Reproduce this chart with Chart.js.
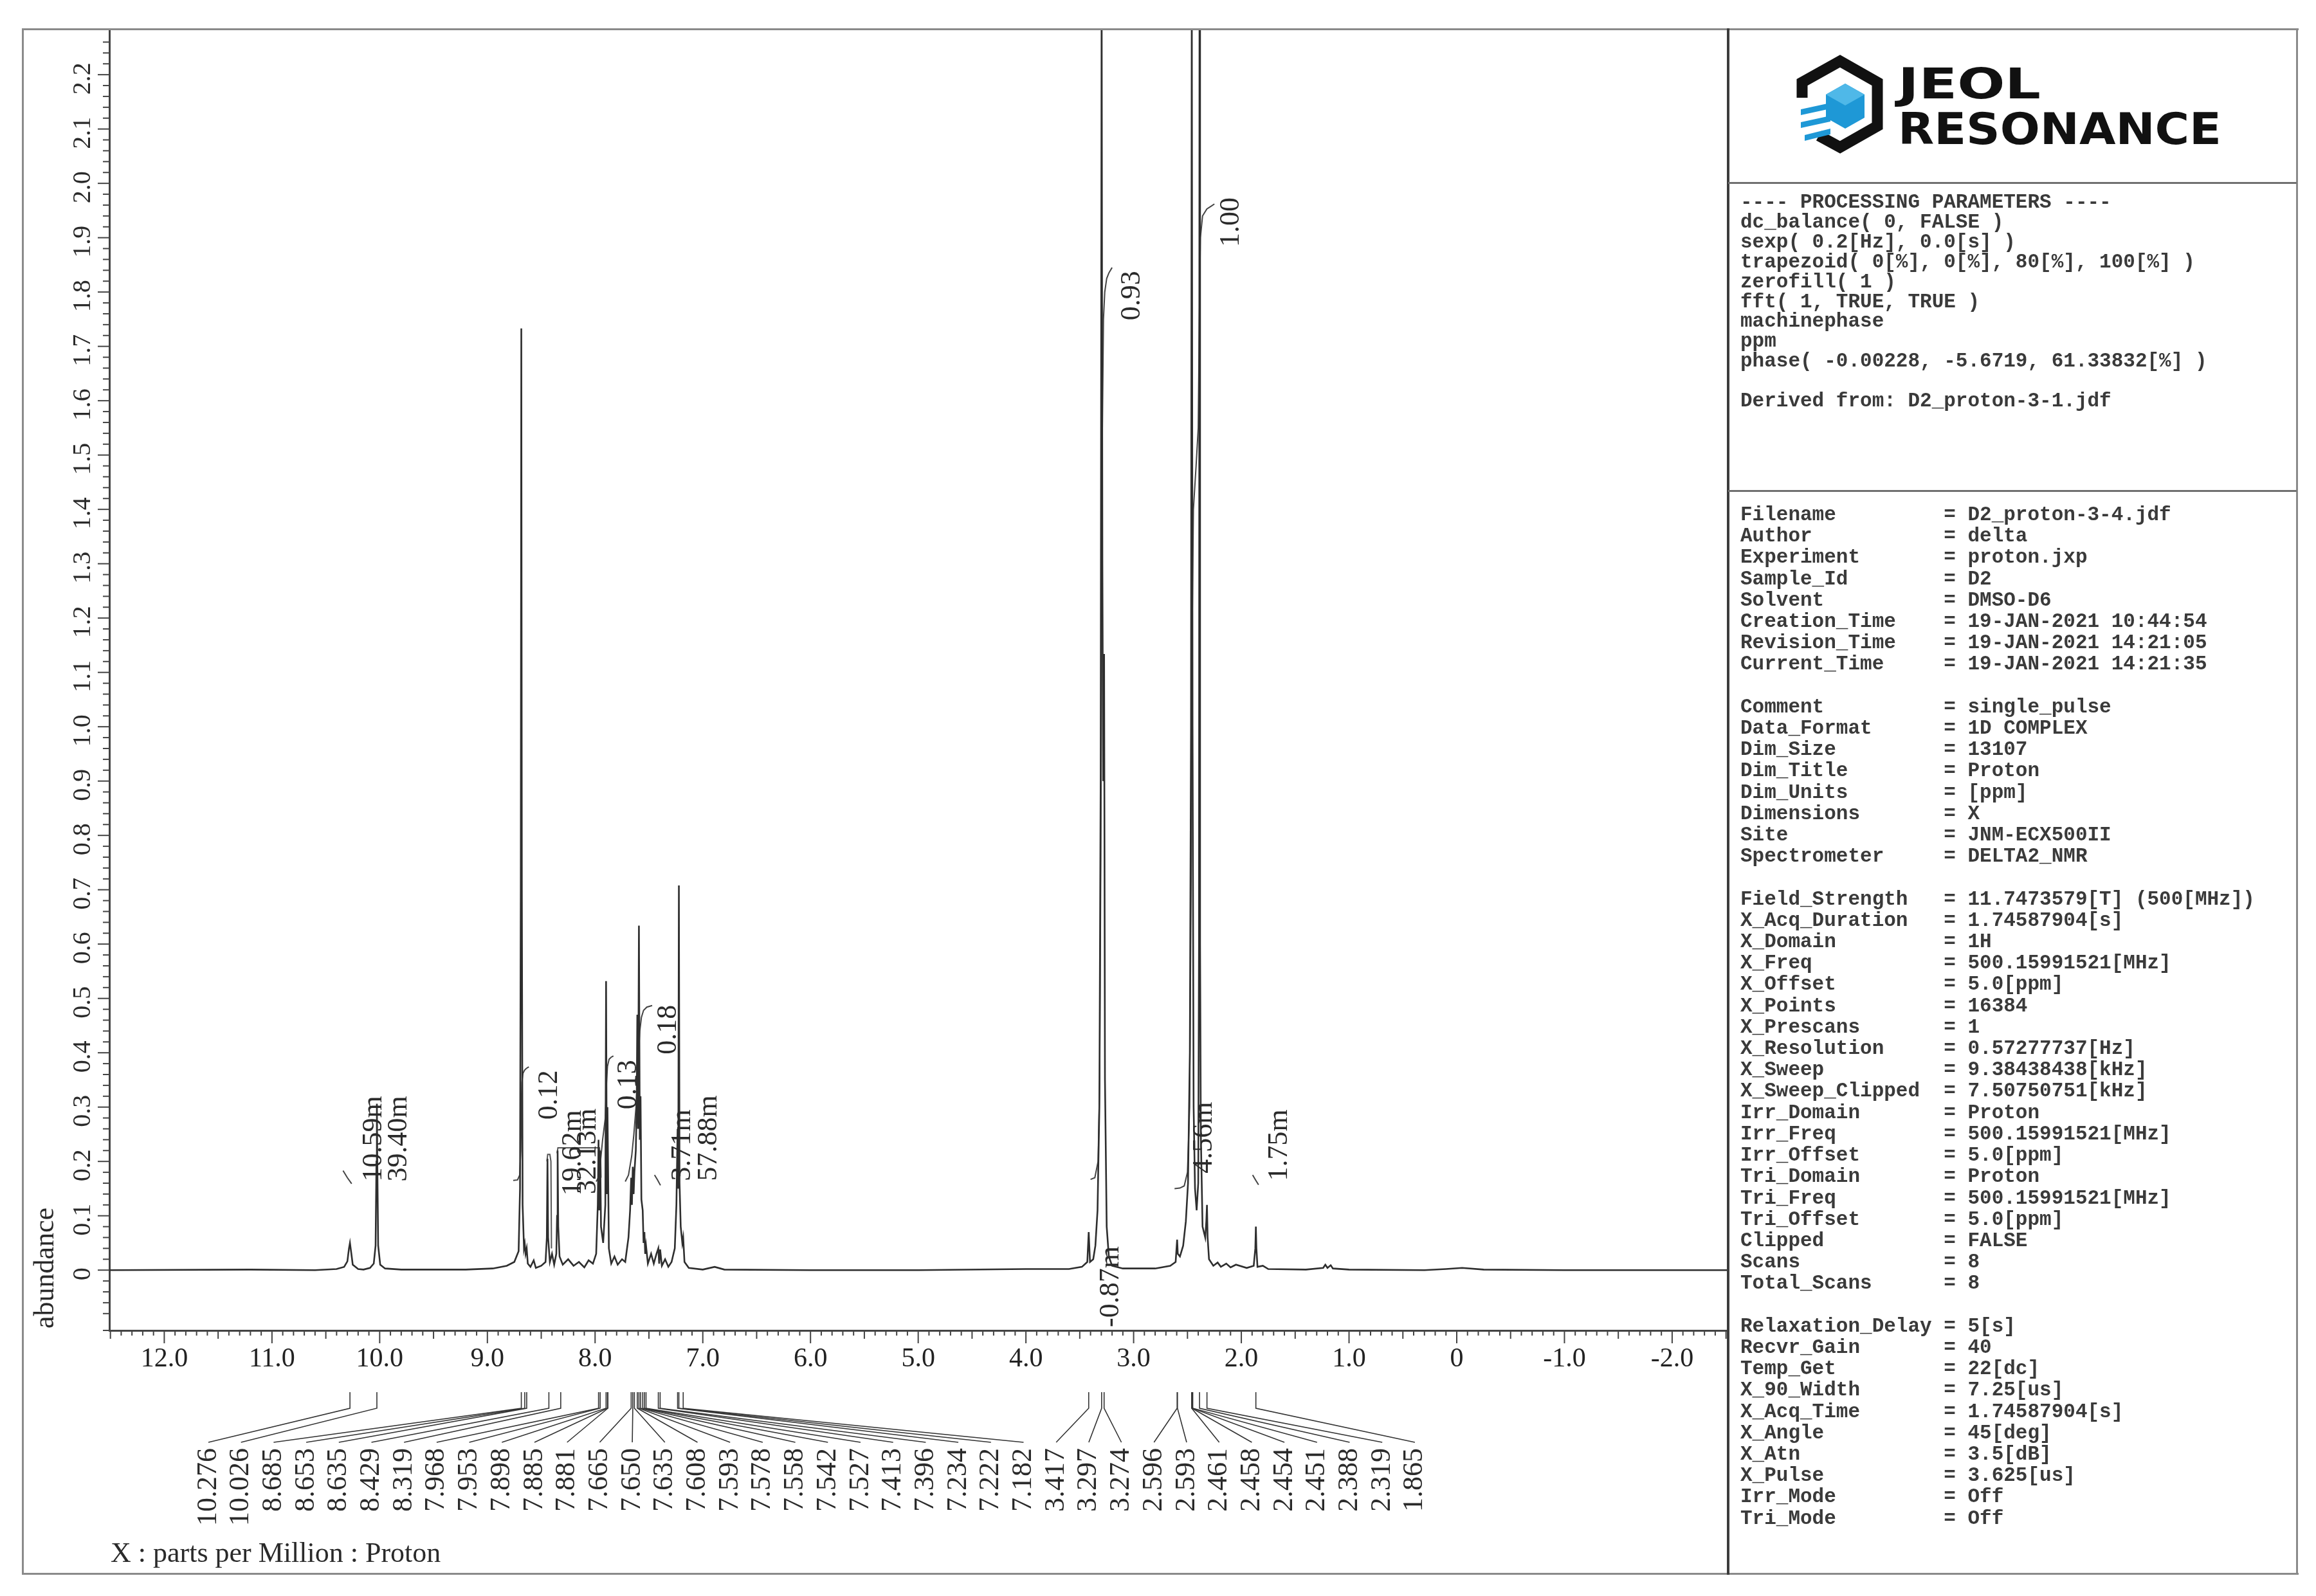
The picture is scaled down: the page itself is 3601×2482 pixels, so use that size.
<!DOCTYPE html>
<html><head><meta charset="utf-8">
<script src="https://cdn.jsdelivr.net/npm/chart.js@4.4.1/dist/chart.umd.min.js"></script>
<style>
html,body{margin:0;padding:0;background:#fff;}
#wrap{position:relative;width:3601px;height:2482px;overflow:hidden;background:#fff}
#c{position:absolute;left:0;top:0}
.ln{position:absolute;background:#8a8a8a}
.mono{position:absolute;left:2706px;font-family:"Liberation Mono","DejaVu Sans Mono",monospace;font-weight:bold;color:#3a3a3a;font-size:31px;white-space:pre;margin:0}
</style></head>
<body><div id="wrap">
<canvas id="c" width="3601" height="2482"></canvas>
<div class="ln" style="left:34px;top:44px;width:3540px;height:3px"></div>
<div class="ln" style="left:34px;top:2446px;width:3540px;height:3px"></div>
<div class="ln" style="left:34px;top:44px;width:3px;height:2405px"></div>
<div class="ln" style="left:3570px;top:44px;width:3px;height:2405px"></div>
<div class="ln" style="left:2685px;top:44px;width:4px;height:2405px;background:#3c3c3c"></div>
<div class="ln" style="left:2687px;top:283px;width:884px;height:3px;background:#707070"></div>
<div class="ln" style="left:2687px;top:762px;width:884px;height:3px;background:#707070"></div>
<svg style="position:absolute;left:2690px;top:48px" width="878" height="234" viewBox="2690 48 878 234">
  <path d="M2802,152 L2802,128 L2861,95 L2919,128 L2919,196 L2861,229 L2828,211" fill="none" stroke="#111" stroke-width="17" stroke-linejoin="miter"/>
  <polygon points="2869,130 2899,147 2899,183 2869,200 2839,183 2839,147" fill="#1e98d6"/>
  <polygon points="2869,130 2899,147 2869,164 2839,147" fill="#4fb8e8"/>
  <polygon points="2800,170 2846,160 2846,169 2800,179" fill="#1e98d6"/>
  <polygon points="2800,190 2846,180 2846,189 2800,199" fill="#1e98d6"/>
  <polygon points="2806,210 2846,200 2846,209 2806,219" fill="#1e98d6"/>
  <text x="2951" y="153" font-family="DejaVu Sans" font-weight="bold" font-size="66" fill="#111" textLength="222" lengthAdjust="spacingAndGlyphs">JEOL</text>
  <text x="2951" y="224" font-family="DejaVu Sans" font-weight="bold" font-size="68" fill="#111" textLength="503" lengthAdjust="spacingAndGlyphs">RESONANCE</text>
</svg>
<div class="mono" style="top:300px;line-height:30.9px">---- PROCESSING PARAMETERS ----
dc_balance( 0, FALSE )
sexp( 0.2[Hz], 0.0[s] )
trapezoid( 0[%], 0[%], 80[%], 100[%] )
zerofill( 1 )
fft( 1, TRUE, TRUE )
machinephase
ppm
phase( -0.00228, -5.6719, 61.33832[%] )

Derived from: D2_proton-3-1.jdf</div>
<div class="mono" style="top:784px;line-height:33.2px">Filename         = D2_proton-3-4.jdf
Author           = delta
Experiment       = proton.jxp
Sample_Id        = D2
Solvent          = DMSO-D6
Creation_Time    = 19-JAN-2021 10:44:54
Revision_Time    = 19-JAN-2021 14:21:05
Current_Time     = 19-JAN-2021 14:21:35

Comment          = single_pulse
Data_Format      = 1D COMPLEX
Dim_Size         = 13107
Dim_Title        = Proton
Dim_Units        = [ppm]
Dimensions       = X
Site             = JNM-ECX500II
Spectrometer     = DELTA2_NMR

Field_Strength   = 11.7473579[T] (500[MHz])
X_Acq_Duration   = 1.74587904[s]
X_Domain         = 1H
X_Freq           = 500.15991521[MHz]
X_Offset         = 5.0[ppm]
X_Points         = 16384
X_Prescans       = 1
X_Resolution     = 0.57277737[Hz]
X_Sweep          = 9.38438438[kHz]
X_Sweep_Clipped  = 7.50750751[kHz]
Irr_Domain       = Proton
Irr_Freq         = 500.15991521[MHz]
Irr_Offset       = 5.0[ppm]
Tri_Domain       = Proton
Tri_Freq         = 500.15991521[MHz]
Tri_Offset       = 5.0[ppm]
Clipped          = FALSE
Scans            = 8
Total_Scans      = 8

Relaxation_Delay = 5[s]
Recvr_Gain       = 40
Temp_Get         = 22[dc]
X_90_Width       = 7.25[us]
X_Acq_Time       = 1.74587904[s]
X_Angle          = 45[deg]
X_Atn            = 3.5[dB]
X_Pulse          = 3.625[us]
Irr_Mode         = Off
Tri_Mode         = Off</div>
</div>
<script>
// ---------- DATA ----------
// spectrum trace (ppm, abundance)
const specPpm = [12.51,11.20,10.60,10.40,10.33,10.30,10.285,10.276,10.266,10.25,10.20,10.15,10.09,10.055,10.038,10.030,10.026,10.022,10.014,9.995,9.95,9.80,9.20,8.95,8.82,8.75,8.71,8.697,8.690,8.685,8.680,8.673,8.660,8.653,8.645,8.635,8.625,8.60,8.57,8.55,8.50,8.46,8.448,8.442,8.436,8.42,8.40,8.38,8.36,8.353,8.348,8.342,8.33,8.30,8.25,8.20,8.15,8.10,8.06,8.02,7.99,7.975,7.968,7.961,7.953,7.945,7.925,7.905,7.898,7.891,7.885,7.881,7.872,7.85,7.82,7.79,7.75,7.72,7.69,7.675,7.665,7.658,7.650,7.642,7.635,7.622,7.614,7.608,7.601,7.593,7.585,7.578,7.570,7.558,7.550,7.542,7.535,7.527,7.51,7.48,7.455,7.43,7.413,7.405,7.396,7.38,7.35,7.32,7.29,7.26,7.245,7.234,7.228,7.222,7.216,7.205,7.190,7.182,7.17,7.13,7.00,6.89,6.80,6.00,5.00,4.00,3.60,3.48,3.43,3.417,3.405,3.375,3.355,3.335,3.318,3.306,3.297,3.290,3.283,3.274,3.266,3.250,3.230,3.20,3.10,2.80,2.66,2.61,2.596,2.590,2.570,2.540,2.515,2.495,2.478,2.467,2.460,2.453,2.443,2.430,2.415,2.400,2.393,2.388,2.383,2.376,2.360,2.335,2.325,2.319,2.313,2.300,2.26,2.22,2.19,2.14,2.10,2.05,1.95,1.885,1.870,1.865,1.860,1.850,1.80,1.75,1.40,1.24,1.22,1.20,1.17,1.15,1.00,0.30,0.10,-0.05,-0.25,-1.00,-2.52];
const specAbund = [0,0.001,0,0.002,0.006,0.016,0.040,0.050,0.035,0.010,0.002,0.001,0.004,0.012,0.045,0.200,0.306,0.200,0.045,0.010,0.003,0.001,0.001,0.003,0.008,0.015,0.035,0.150,0.700,1.733,0.700,0.120,0.040,0.048,0.030,0.040,0.012,0.006,0.018,0.004,0.008,0.015,0.060,0.205,0.060,0.015,0.030,0.010,0.030,0.100,0.220,0.080,0.025,0.010,0.020,0.008,0.015,0.005,0.018,0.012,0.030,0.120,0.240,0.110,0.220,0.080,0.050,0.120,0.532,0.140,0.300,0.220,0.040,0.012,0.025,0.010,0.020,0.015,0.060,0.110,0.170,0.120,0.190,0.140,0.180,0.220,0.300,0.470,0.260,0.634,0.240,0.320,0.130,0.110,0.050,0.070,0.030,0.045,0.012,0.030,0.012,0.030,0.040,0.012,0.038,0.008,0.020,0.006,0.015,0.040,0.120,0.260,0.150,0.708,0.160,0.080,0.050,0.060,0.015,0.004,0.001,0.006,0.001,0,0,0.002,0.002,0.006,0.015,0.070,0.015,0.020,0.045,0.110,0.300,0.900,2.400,1.300,0.900,1.134,0.350,0.080,0.025,0.008,0.003,0.003,0.008,0.015,0.056,0.030,0.025,0.045,0.090,0.160,0.400,1.000,2.400,1.000,0.300,0.150,0.110,0.160,0.600,2.400,0.600,0.250,0.080,0.060,0.090,0.120,0.060,0.020,0.008,0.014,0.006,0.012,0.005,0.010,0.004,0.008,0.040,0.080,0.040,0.006,0.008,0.002,0.001,0.004,0.010,0.004,0.009,0.003,0.001,0,0.002,0.004,0.001,0,0];

// integral curves (ppm, integral trace height)
const intA_ppm = [10.34,10.30,10.26];           const intA_val = [0.183,0.170,0.159];
const int012_ppm = [8.76,8.72,8.70,8.69,8.685,8.68,8.67,8.655,8.64,8.615]; const int012_val = [0.165,0.166,0.175,0.22,0.30,0.345,0.362,0.368,0.371,0.374];
const int013_ppm = [7.99,7.97,7.95,7.93,7.905,7.895,7.885,7.87,7.85,7.83]; const int013_val = [0.163,0.17,0.20,0.24,0.28,0.34,0.375,0.388,0.392,0.394];
const int018_ppm = [7.72,7.69,7.66,7.64,7.62,7.60,7.585,7.57,7.55,7.52,7.47]; const int018_val = [0.163,0.175,0.21,0.25,0.30,0.38,0.44,0.465,0.478,0.484,0.487];
const intB_ppm = [7.448,7.42,7.393];            const intB_val = [0.175,0.166,0.156];
const int093_ppm = [3.40,3.36,3.33,3.315,3.305,3.297,3.29,3.28,3.268,3.25,3.23,3.20]; const int093_val = [0.167,0.170,0.20,0.35,0.75,1.25,1.55,1.75,1.80,1.825,1.835,1.845];
const int100_ppm = [2.62,2.57,2.53,2.50,2.48,2.465,2.455,2.445,2.42,2.40,2.39,2.38,2.36,2.32,2.28,2.25]; const int100_val = [0.150,0.151,0.155,0.18,0.30,0.75,1.20,1.40,1.48,1.55,1.75,1.90,1.94,1.953,1.958,1.962];
const intC_ppm = [1.895,1.868,1.840];           const intC_val = [0.175,0.166,0.157];
// multiplet brackets
const brk1_ppm = [8.447,8.44,8.42,8.41,8.405]; const brk1_val = [0.200,0.213,0.213,0.200,0.040];
const brk2_ppm = [8.353,8.345,7.96,7.948,7.945]; const brk2_val = [0.215,0.225,0.225,0.200,0.170];

// integral values (text, ppm position, top of text)
const intLabelText = ['0.12','0.13','0.18','0.93','1.00'];
const intLabelPpm  = [8.424,7.69,7.32,3.015,2.096];
const intLabelTop  = [0.368,0.387,0.488,1.839,1.974];
// multiplet labels (text, ppm position, start of text)
const mLabelText = ['10.59m','39.40m','19.62m','32.13m','3.71m','57.88m','-0.87m','4.56m','1.75m'];
const mLabelPpm  = [10.054,9.82,8.203,8.066,7.188,6.943,3.212,2.346,1.648];
const mLabelBase = [0.163,0.163,0.137,0.140,0.164,0.164,-0.105,0.178,0.164];

// picked peaks (ppm) listed under the axis
const peakLabelPpm = [10.276,10.026,8.685,8.653,8.635,8.429,8.319,7.968,7.953,7.898,7.885,7.881,7.665,7.650,7.635,7.608,7.593,7.578,7.558,7.542,7.527,7.413,7.396,7.234,7.222,7.182,3.417,3.297,3.274,2.596,2.593,2.461,2.458,2.454,2.451,2.388,2.319,1.865];

// axis ranges
const X_MIN = -2.52, X_MAX = 12.51, Y_MIN = -0.111, Y_MAX = 2.283;

// ---------- RENDER ----------
const pts = (xs, ys) => xs.map((x, i) => ({x: x, y: ys[i]}));
const TREE = {x0: 324, dx: 50.7, y0: 2165, y1: 2190, y2: 2243, yText: 2252};
const SERIF = '"Liberation Serif","Times New Roman",serif';

function drawRot(ctx, text, x, y, align) {
  ctx.save();
  ctx.translate(x, y);
  ctx.rotate(-Math.PI / 2);
  ctx.textAlign = align;
  ctx.textBaseline = 'middle';
  ctx.fillText(text, 0, 0);
  ctx.restore();
}

const overlay = {
  id: 'overlay',
  afterDraw(chart) {
    const ctx = chart.ctx, xs = chart.scales.x, ys = chart.scales.y, ca = chart.chartArea;
    ctx.save();
    ctx.strokeStyle = '#444';
    ctx.fillStyle = '#2a2a2a';
    // y ticks + rotated labels
    ctx.lineWidth = 2;
    ctx.font = '40px ' + SERIF;
    ys.ticks.forEach(t => {
      const v = t.value, y = ys.getPixelForValue(v);
      const k = Math.round(v * 50);
      const major = k % 5 === 0;
      ctx.beginPath(); ctx.moveTo(ca.left, y); ctx.lineTo(ca.left - (major ? 18 : 10), y); ctx.stroke();
      if (major) {
        const lab = k === 0 ? '0' : v.toFixed(1);
        let yc = y + 6;
        if (v < 0) yc = ca.bottom - 52;
        drawRot(ctx, lab, 129, yc, 'center');
      }
    });
    // x ticks
    for (let k = Math.ceil(xs.min * 10); k <= Math.floor(xs.max * 10); k++) {
      const x = xs.getPixelForValue(k / 10);
      const len = k % 10 === 0 ? 20 : (k % 5 === 0 ? 13 : 8);
      ctx.beginPath(); ctx.moveTo(x, ca.bottom); ctx.lineTo(x, ca.bottom + len); ctx.stroke();
    }
    // axis titles
    ctx.font = '44px ' + SERIF;
    drawRot(ctx, 'abundance', 71, 1972, 'center');
    ctx.textAlign = 'left'; ctx.textBaseline = 'middle';
    ctx.fillText('X : parts per Million : Proton', 172, 2417);
    // integral values
    ctx.font = '44px ' + SERIF;
    intLabelText.forEach((s, i) => drawRot(ctx, s, xs.getPixelForValue(intLabelPpm[i]), ys.getPixelForValue(intLabelTop[i]), 'right'));
    mLabelText.forEach((s, i) => drawRot(ctx, s, xs.getPixelForValue(mLabelPpm[i]), ys.getPixelForValue(mLabelBase[i]), 'left'));
    // peak pick tree
    ctx.lineWidth = 1.6;
    ctx.strokeStyle = '#333';
    peakLabelPpm.forEach((p, i) => {
      const xp = xs.getPixelForValue(p), xl = TREE.x0 + i * TREE.dx;
      ctx.beginPath();
      ctx.moveTo(xp, TREE.y0); ctx.lineTo(xp, TREE.y1); ctx.lineTo(xl, TREE.y2);
      ctx.stroke();
      drawRot(ctx, p.toFixed(3), xl, TREE.yText, 'right');
    });
    ctx.restore();
  }
};

const lineDs = (data, w, col) => ({data: data, showLine: true, pointRadius: 0, borderColor: col, borderWidth: w, tension: 0, fill: false});

new Chart(document.getElementById('c'), {
  type: 'scatter',
  data: {
    datasets: [
      lineDs(pts(specPpm, specAbund), 2.6, '#2e2e2e'),
      lineDs(pts(intA_ppm, intA_val), 2, '#444'),
      lineDs(pts(int012_ppm, int012_val), 2, '#444'),
      lineDs(pts(int013_ppm, int013_val), 2, '#444'),
      lineDs(pts(int018_ppm, int018_val), 2, '#444'),
      lineDs(pts(intB_ppm, intB_val), 2, '#444'),
      lineDs(pts(int093_ppm, int093_val), 2, '#444'),
      lineDs(pts(int100_ppm, int100_val), 2, '#444'),
      lineDs(pts(intC_ppm, intC_val), 2, '#444'),
      lineDs(pts(brk1_ppm, brk1_val), 2, '#555'),
      lineDs(pts(brk2_ppm, brk2_val), 2, '#555')
    ]
  },
  options: {
    responsive: false, devicePixelRatio: 1, animation: false, events: [],
    layout: {padding: {left: 170, top: 46, right: 3601 - 2687, bottom: 0}},
    plugins: {legend: {display: false}, tooltip: {enabled: false}},
    scales: {
      x: {
        type: 'linear', reverse: true, min: X_MIN, max: X_MAX,
        afterFit(s) { s.height = 2482 - 2069; },
        grid: {display: false, drawTicks: false},
        border: {display: true, color: '#444', width: 3},
        ticks: {
          stepSize: 1, includeBounds: false, autoSkip: false, maxRotation: 0, minRotation: 0,
          padding: 20, color: '#222', font: {family: SERIF, size: 42},
          callback: v => Math.abs(v) < 1e-9 ? '0' : Number(v).toFixed(1)
        }
      },
      y: {
        type: 'linear', min: Y_MIN, max: Y_MAX,
        afterFit(s) { s.width = 0; },
        grid: {display: false, drawTicks: false},
        border: {display: true, color: '#444', width: 3},
        ticks: {display: false, stepSize: 0.02}
      }
    }
  },
  plugins: [overlay]
});
</script>
</body></html>
